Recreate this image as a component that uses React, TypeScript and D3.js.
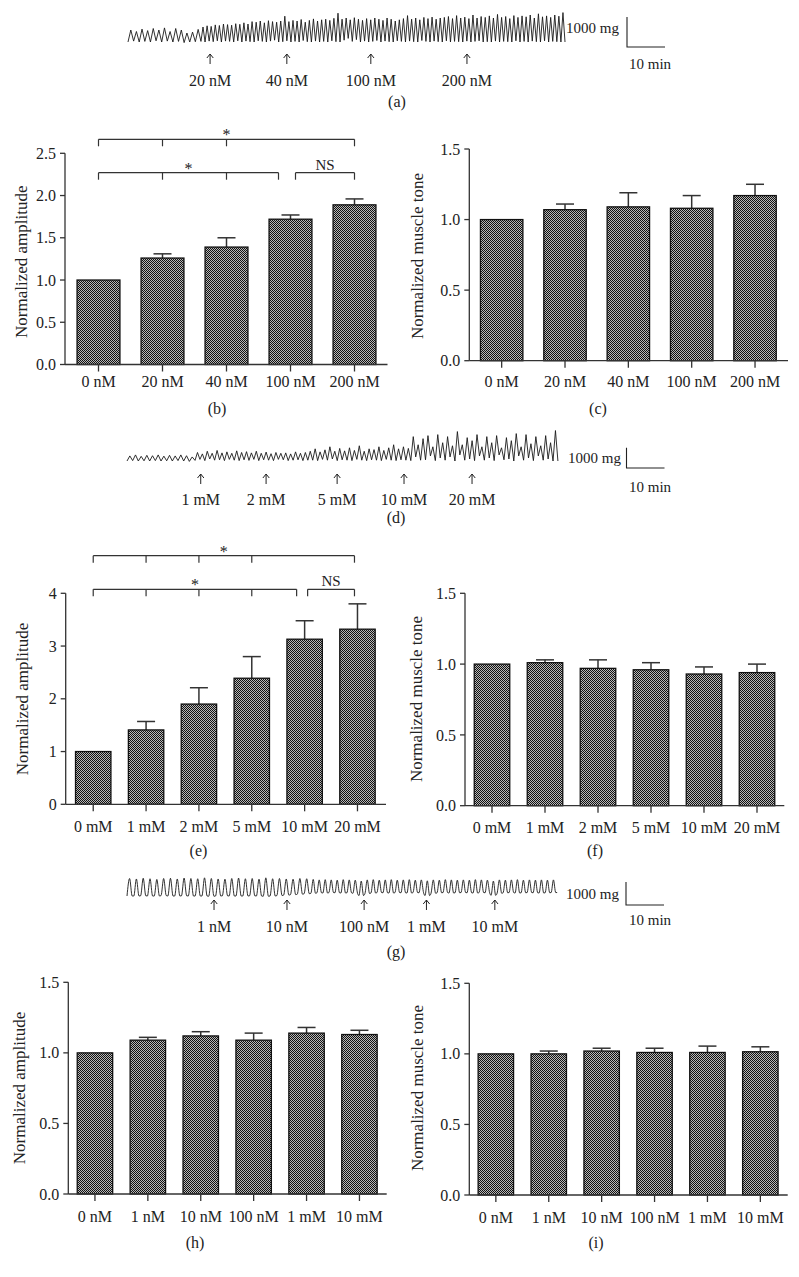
import React from "react";
import * as d3 from "d3";

const FONT = '"Liberation Serif", "Times New Roman", serif';
const INK = "#222";

// ---------- bar chart data ----------
const catsB = ["0 nM", "20 nM", "40 nM", "100 nM", "200 nM"];
const ampB = [1.0, 1.26, 1.39, 1.72, 1.89];
const ampBErr = [0, 0.05, 0.11, 0.05, 0.07];
const toneC = [1.0, 1.07, 1.09, 1.08, 1.17];
const toneCErr = [0, 0.04, 0.1, 0.09, 0.08];

const catsE = ["0 mM", "1 mM", "2 mM", "5 mM", "10 mM", "20 mM"];
const ampE = [1.0, 1.41, 1.9, 2.39, 3.13, 3.32];
const ampEErr = [0, 0.16, 0.31, 0.41, 0.35, 0.48];
const toneF = [1.0, 1.01, 0.97, 0.96, 0.93, 0.94];
const toneFErr = [0, 0.02, 0.06, 0.05, 0.05, 0.06];

const catsH = ["0 nM", "1 nM", "10 nM", "100 nM", "1 mM", "10 mM"];
const ampH = [1.0, 1.09, 1.12, 1.09, 1.14, 1.13];
const ampHErr = [0, 0.02, 0.03, 0.05, 0.04, 0.03];
const toneI = [1.0, 1.0, 1.02, 1.01, 1.01, 1.015];
const toneIErr = [0, 0.02, 0.02, 0.03, 0.045, 0.035];

const ticksAmpB = [0, 0.5, 1, 1.5, 2, 2.5];
const ticksAmpE = [0, 1, 2, 3, 4];
const ticksTone = [0, 0.5, 1, 1.5];

const bracketsB = [
  { from: "0 nM", to: "200 nM", drops: ["0 nM", "20 nM", "40 nM", "200 nM"], label: "*" },
  { from: "0 nM", to: "100 nM", drops: ["0 nM", "20 nM", "40 nM"], label: "*" },
  { from: "100 nM", to: "200 nM", drops: [], label: "NS" },
];
const bracketsE = [
  { from: "0 mM", to: "20 mM", drops: ["0 mM", "1 mM", "2 mM", "5 mM", "20 mM"], label: "*" },
  { from: "0 mM", to: "10 mM", drops: ["0 mM", "1 mM", "2 mM", "5 mM"], label: "*" },
  { from: "10 mM", to: "20 mM", drops: [], label: "NS" },
];

// ---------- trace data (mg, per contraction cycle) ----------
const traceAEarlyPeaks = [400, 350, 430, 380, 450, 400, 470, 350, 450, 400, 300, 330, 420];
const traceAEarlyTroughs = [0, 30, 0, 20, 0, 40, 0, 30, 0, 20, -20, 0, 10];
const traceALatePeaks = [
  500, 540, 520, 570, 550, 600, 580, 560, 610, 590,
  640, 600, 680, 660, 700, 640, 710, 680, 660, 700,
  860, 680, 720, 700, 750, 660, 720, 770, 700, 740,
  760, 720, 790, 960, 760, 800, 740, 810, 760, 720,
  780, 740, 800, 760, 720, 800, 760, 700, 740, 780,
  880, 760, 800, 740, 820, 780, 830, 760, 800, 820,
  850, 780, 880, 800, 830, 780, 900, 800, 850, 820,
  870, 800, 920, 820, 850, 780, 880, 820, 870, 840,
  900, 800, 940, 840, 870, 820, 900, 860, 980,
];
const traceALateTroughs = [
  20, 0, 30, 10, 40, 0, 30, 20, 0, 40,
  0, 30, 10, 0, 40, 20, 0, 30, 60, 0,
  10, 40, 0, 20, 0, 50, 10, 0, 30, 0,
  20, 0, 40, 10, 0, 60, 120, 20, 80, 0,
  30, 0, 20, 50, 0, 30, 10, 0, 40, 20,
  0, 30, 10, 0, 50, 20, 0, 30, 10, 0,
  40, 0, 20, 10, 0, 30, 0, 20, 40, 0,
  10, 0, 30, 0, 20, 10, 0, 40, 0, 20,
  0, 30, 10, 0, 40, 0, 20, 10, 0,
];
const traceAPhasesMin = [0, 19.2, 115];
const traceAArrowsMin = [21.6, 41.8, 63.9, 89.2];
const traceALabels = ["20 nM", "40 nM", "100 nM", "200 nM"];

const traceDEarlyPeaks = [250, 300, 230, 280, 260, 300, 240, 280, 250, 300, 260, 200];
const traceDEarlyTroughs = [0, 20, 0, 10, 0, 20, 0, 10, 0, 20, 0, -20];
const traceDLatePeaks = [
  420, 350, 480, 380, 520, 400, 450, 380, 500, 420, 460, 400,
  480, 380, 440, 360, 420, 380, 400, 350, 450, 380, 420, 480,
  600, 450, 550, 700, 480, 620, 500, 650, 520, 750, 480, 600,
  560, 700, 520, 650, 800, 600, 700, 620,
  1200, 800, 1100, 1250, 700, 1300, 900, 1200, 750, 1450,
  800, 1150, 1000, 1300, 700, 1200, 900, 1250, 650, 1150,
  1000, 1350, 700, 1300, 850, 1200, 750, 1250, 900, 1500,
];
const traceDLateTroughs = [
  30, 80, 20, 100, 40, 60, 20, 80, 40, 20, 60, 30,
  80, 20, 60, 40, 20, 80, 60, 20, 40, 60, 20, 40,
  40, 20, 80, 40, 100, 20, 60, 40, 20, 80, 40, 20,
  60, 40, 20, 80, 40, 20, 60, 40,
  20, 200, 40, 60, 250, 20, 150, 40, 200, 0,
  300, 40, 100, 20, 250, 40, 150, 20, 300, 60,
  100, 0, 250, 40, 150, 20, 250, 40, 100, 0,
];
const traceDPhasesMin = [0, 17.9, 113.4];
const traceDArrowsMin = [19.4, 36.6, 55.3, 72.9, 90.8];
const traceDLabels = ["1 mM", "2 mM", "5 mM", "10 mM", "20 mM"];

const traceGEarlyPeaks = [
  760, 740, 770, 750, 720, 760, 770, 740, 780, 760, 750, 790, 760, 740,
  730, 760, 780, 750, 760, 730, 790, 750, 760, 740, 730, 760, 750,
];
const traceGEarlyTroughs = [
  0, 0, 10, 0, 0, 20, 0, 0, 10, 0, 0, 0, -10, 0,
  10, 0, 0, 0, 10, 0, -10, 0, 20, 40, 60, 80, 100,
];
const traceGLatePeaks = [
  720, 700, 710, 700, 690, 710, 700, 690, 650, 700, 710, 690, 700, 710,
  690, 700, 710, 690, 700, 660, 700, 690, 710, 700, 690, 700, 690, 710,
  700, 690, 650, 700, 690, 700, 710, 690, 700, 690, 700, 690, 700,
];
const traceGLateTroughs = [
  120, 140, 130, 150, 140, 130, 140, 120, 20, 110, 130, 150, 140, 130,
  150, 140, 130, 150, 140, 20, 120, 140, 150, 130, 140, 150, 140, 130,
  150, 140, 30, 120, 140, 150, 130, 140, 150, 140, 130, 140, 150,
];
const traceGPhasesMin = [0, 48.4, 113.2];
const traceGArrowsMin = [22.9, 42.1, 62.4, 78.8, 96.8];
const traceGLabels = ["1 nM", "10 nM", "100 nM", "1 mM", "10 mM"];

// ---------- layouts ----------
const LB = { x0: 66.5, x1: 386.5, axisLeft: 65, axisRight: 387.5, yBottom: 364.5, yTop: 153.3, yMax: 2.5, titleX: 26.5, titleY: 261.7, labelY: 387 };
const LC = { x0: 470, x1: 786.7, axisLeft: 469.3, axisRight: 788, yBottom: 360.7, yTop: 149, yMax: 1.5, titleX: 423, titleY: 256, labelY: 387 };
const LE = { x0: 66.8, x1: 383.9, axisLeft: 65.7, axisRight: 386, yBottom: 804.3, yTop: 593.3, yMax: 4, titleX: 28, titleY: 699, labelY: 832 };
const LF = { x0: 465.5, x1: 783.5, axisLeft: 465, axisRight: 784.3, yBottom: 805.7, yTop: 593.3, yMax: 1.5, titleX: 421.7, titleY: 699, labelY: 832.7 };
const LH = { x0: 68.5, x1: 385.9, axisLeft: 68.3, axisRight: 386.7, yBottom: 1194, yTop: 982.3, yMax: 1.5, titleX: 25, titleY: 1088, labelY: 1221.7 };
const LI = { x0: 469.4, x1: 786.8, axisLeft: 469.3, axisRight: 787.7, yBottom: 1195, yTop: 983.3, yMax: 1.5, titleX: 423, titleY: 1088, labelY: 1223 };

const BLB = [
  { y: 139.3, fromShift: 0, toShift: 0 },
  { y: 172.7, fromShift: 0, toShift: -12 },
  { y: 172.7, fromShift: 5, toShift: 0 },
];
const BLE = [
  { y: 555.7, fromShift: 0, toShift: -3 },
  { y: 589.3, fromShift: 0, toShift: -8 },
  { y: 589.3, fromShift: 3, toShift: -3 },
];

const LA = { x0: 128, base: 42, px1000: 30, arrowTop: 54, labelY: 85.5, barX: 627, barBottom: 47, mgX: 566, mgY: 32.5, minX: 629, minY: 68.5 };
const LD = { x0: 127, base: 461, px1000: 20.3, arrowTop: 474, labelY: 505, barX: 626.5, barBottom: 468, mgX: 568, mgY: 462.5, minX: 629, minY: 492 };
const LG = { x0: 127, base: 896, px1000: 23, arrowTop: 900, labelY: 932, barX: 626, barBottom: 905, mgX: 566, mgY: 899, minX: 629, minY: 924.5 };

function BarPanel({ cats, vals, errs, ticks, fmt, L, title, brackets, bl }: any) {
  const x = d3.scaleBand().domain(cats).range([L.x0, L.x1]).paddingInner(0.33).paddingOuter(0.165);
  const y = d3.scaleLinear().domain([0, L.yMax]).range([L.yBottom, L.yTop]);
  const bw = x.bandwidth();
  const cx = (c: string) => (x(c) as number) + bw / 2;
  return (
    <g fontFamily={FONT} fill={INK}>
      {cats.map((c: string, i: number) => {
        const top = y(vals[i]);
        return (
          <g key={c}>
            {errs[i] > 0 && (
              <g stroke="#333" strokeWidth={1.5}>
                <line x1={cx(c)} x2={cx(c)} y1={top} y2={y(vals[i] + errs[i])} />
                <line x1={cx(c) - 9} x2={cx(c) + 9} y1={y(vals[i] + errs[i])} y2={y(vals[i] + errs[i])} />
              </g>
            )}
            <rect x={x(c)} y={top} width={bw} height={y(0) - top} fill="url(#checker)" stroke="#111" strokeWidth={1.3} />
          </g>
        );
      })}
      {/* y axis */}
      <line x1={L.axisLeft} x2={L.axisLeft} y1={y(0)} y2={y(L.yMax)} stroke="#333" strokeWidth={1.3} />
      {ticks.map((t: number) => (
        <g key={t}>
          <line x1={L.axisLeft - 5} x2={L.axisLeft} y1={y(t)} y2={y(t)} stroke="#333" strokeWidth={1.3} />
          <text x={L.axisLeft - 9} y={y(t)} dy="0.35em" textAnchor="end" fontSize={16}>{fmt(t)}</text>
        </g>
      ))}
      {/* x axis */}
      <line x1={L.axisLeft} x2={L.axisRight} y1={y(0)} y2={y(0)} stroke="#333" strokeWidth={1.3} />
      {cats.map((c: string) => (
        <g key={c}>
          <line x1={cx(c)} x2={cx(c)} y1={y(0)} y2={y(0) + 7} stroke="#333" strokeWidth={1.3} />
          <text x={cx(c)} y={L.labelY} textAnchor="middle" fontSize={16}>{c}</text>
        </g>
      ))}
      <text transform={`translate(${L.titleX},${L.titleY}) rotate(-90)`} textAnchor="middle" fontSize={17}>{title}</text>
      {brackets &&
        brackets.map((b: any, i: number) => {
          const g = bl[i];
          const xa = cx(b.from) + g.fromShift;
          const xb = cx(b.to) + g.toShift;
          const drops = [xa, xb, ...b.drops.filter((d: string) => d !== b.from && d !== b.to).map(cx)];
          return (
            <g key={i}>
              <line x1={xa} x2={xb} y1={g.y} y2={g.y} stroke="#333" strokeWidth={1.2} />
              {drops.map((dx: number, j: number) => (
                <line key={j} x1={dx} x2={dx} y1={g.y} y2={g.y + 7} stroke="#333" strokeWidth={1.2} />
              ))}
              <text x={(xa + xb) / 2} y={b.label === "NS" ? g.y - 3 : g.y + 1} textAnchor="middle" fontSize={b.label === "NS" ? 15 : 16}>
                {b.label}
              </text>
            </g>
          );
        })}
    </g>
  );
}

function Trace({ earlyP, earlyT, lateP, lateT, phases, arrows, labels, L, rounded }: any) {
  const t = d3.scaleLinear().domain([0, 10]).range([0, 38]);
  const v = d3.scaleLinear().domain([0, 1000]).range([L.base, L.base - L.px1000]);
  const pts: [number, number][] = [];
  const addSeg = (P: number[], T: number[], m0: number, m1: number) => {
    const per = (m1 - m0) / P.length;
    P.forEach((p, i) => {
      const tr = T[i] ?? 0;
      const s = m0 + i * per;
      if (rounded) {
        pts.push([s, tr], [s + 0.38 * per, p], [s + 0.76 * per, tr]);
      } else {
        pts.push([s, tr], [s + 0.5 * per, p]);
      }
    });
  };
  addSeg(earlyP, earlyT, phases[0], phases[1]);
  addSeg(lateP, lateT, phases[1], phases[2]);
  pts.push([phases[2], lateT[lateT.length - 1] ?? 0]);
  const line = d3
    .line<[number, number]>()
    .x((d) => L.x0 + t(d[0]))
    .y((d) => v(d[1]))
    .curve(rounded ? d3.curveMonotoneX : d3.curveLinear);
  const barH = v(0) - v(1000);
  const barW = t(10) - t(0);
  return (
    <g fontFamily={FONT} fill={INK}>
      <path d={line(pts) || ""} fill="none" stroke="#1a1a1a" strokeWidth={0.9} />
      {arrows.map((m: number, i: number) => {
        const ax = L.x0 + t(m);
        const a = L.arrowTop;
        return (
          <g key={i}>
            <path d={`M${ax},${a + 10}V${a}M${ax - 3.2},${a + 4}L${ax},${a}L${ax + 3.2},${a + 4}`} fill="none" stroke="#222" strokeWidth={1} />
            <text x={ax} y={L.labelY} textAnchor="middle" fontSize={16}>{labels[i]}</text>
          </g>
        );
      })}
      <path d={`M${L.barX},${L.barBottom - barH}V${L.barBottom}H${L.barX + barW}`} fill="none" stroke="#222" strokeWidth={1.1} />
      <text x={L.mgX} y={L.mgY} fontSize={15}>1000 mg</text>
      <text x={L.minX} y={L.minY} fontSize={15}>10 min</text>
    </g>
  );
}

const fmt1 = (d: number) => d3.format(".1f")(d);
const fmt0 = (d: number) => d3.format("d")(d);

const panelLabels = [
  { t: "(a)", x: 397, y: 107 },
  { t: "(b)", x: 217, y: 414 },
  { t: "(c)", x: 598, y: 414 },
  { t: "(d)", x: 396, y: 523 },
  { t: "(e)", x: 198.5, y: 856 },
  { t: "(f)", x: 595, y: 856 },
  { t: "(g)", x: 396, y: 956.5 },
  { t: "(h)", x: 195, y: 1248 },
  { t: "(i)", x: 596, y: 1248 },
];

export default function App() {
  return (
    <svg width={799} height={1277} style={{ position: "absolute", left: 0, top: 0, background: "#fff" }}>
      <defs>
        <pattern id="checker" width={2} height={2} patternUnits="userSpaceOnUse">
          <rect width={2} height={2} fill="#b8b8b8" />
          <rect width={1} height={1} fill="#111" />
          <rect x={1} y={1} width={1} height={1} fill="#111" />
        </pattern>
      </defs>
      <rect width={799} height={1277} fill="#fff" />

      <Trace earlyP={traceAEarlyPeaks} earlyT={traceAEarlyTroughs} lateP={traceALatePeaks} lateT={traceALateTroughs}
        phases={traceAPhasesMin} arrows={traceAArrowsMin} labels={traceALabels} L={LA} rounded={false} />
      <Trace earlyP={traceDEarlyPeaks} earlyT={traceDEarlyTroughs} lateP={traceDLatePeaks} lateT={traceDLateTroughs}
        phases={traceDPhasesMin} arrows={traceDArrowsMin} labels={traceDLabels} L={LD} rounded={false} />
      <Trace earlyP={traceGEarlyPeaks} earlyT={traceGEarlyTroughs} lateP={traceGLatePeaks} lateT={traceGLateTroughs}
        phases={traceGPhasesMin} arrows={traceGArrowsMin} labels={traceGLabels} L={LG} rounded={true} />

      <BarPanel cats={catsB} vals={ampB} errs={ampBErr} ticks={ticksAmpB} fmt={fmt1} L={LB} title="Normalized amplitude" brackets={bracketsB} bl={BLB} />
      <BarPanel cats={catsB} vals={toneC} errs={toneCErr} ticks={ticksTone} fmt={fmt1} L={LC} title="Normalized muscle tone" />
      <BarPanel cats={catsE} vals={ampE} errs={ampEErr} ticks={ticksAmpE} fmt={fmt0} L={LE} title="Normalized amplitude" brackets={bracketsE} bl={BLE} />
      <BarPanel cats={catsE} vals={toneF} errs={toneFErr} ticks={ticksTone} fmt={fmt1} L={LF} title="Normalized muscle tone" />
      <BarPanel cats={catsH} vals={ampH} errs={ampHErr} ticks={ticksTone} fmt={fmt1} L={LH} title="Normalized amplitude" />
      <BarPanel cats={catsH} vals={toneI} errs={toneIErr} ticks={ticksTone} fmt={fmt1} L={LI} title="Normalized muscle tone" />

      {panelLabels.map((p) => (
        <text key={p.t} x={p.x} y={p.y} textAnchor="middle" fontFamily={FONT} fontSize={16} fill={INK}>{p.t}</text>
      ))}
    </svg>
  );
}
